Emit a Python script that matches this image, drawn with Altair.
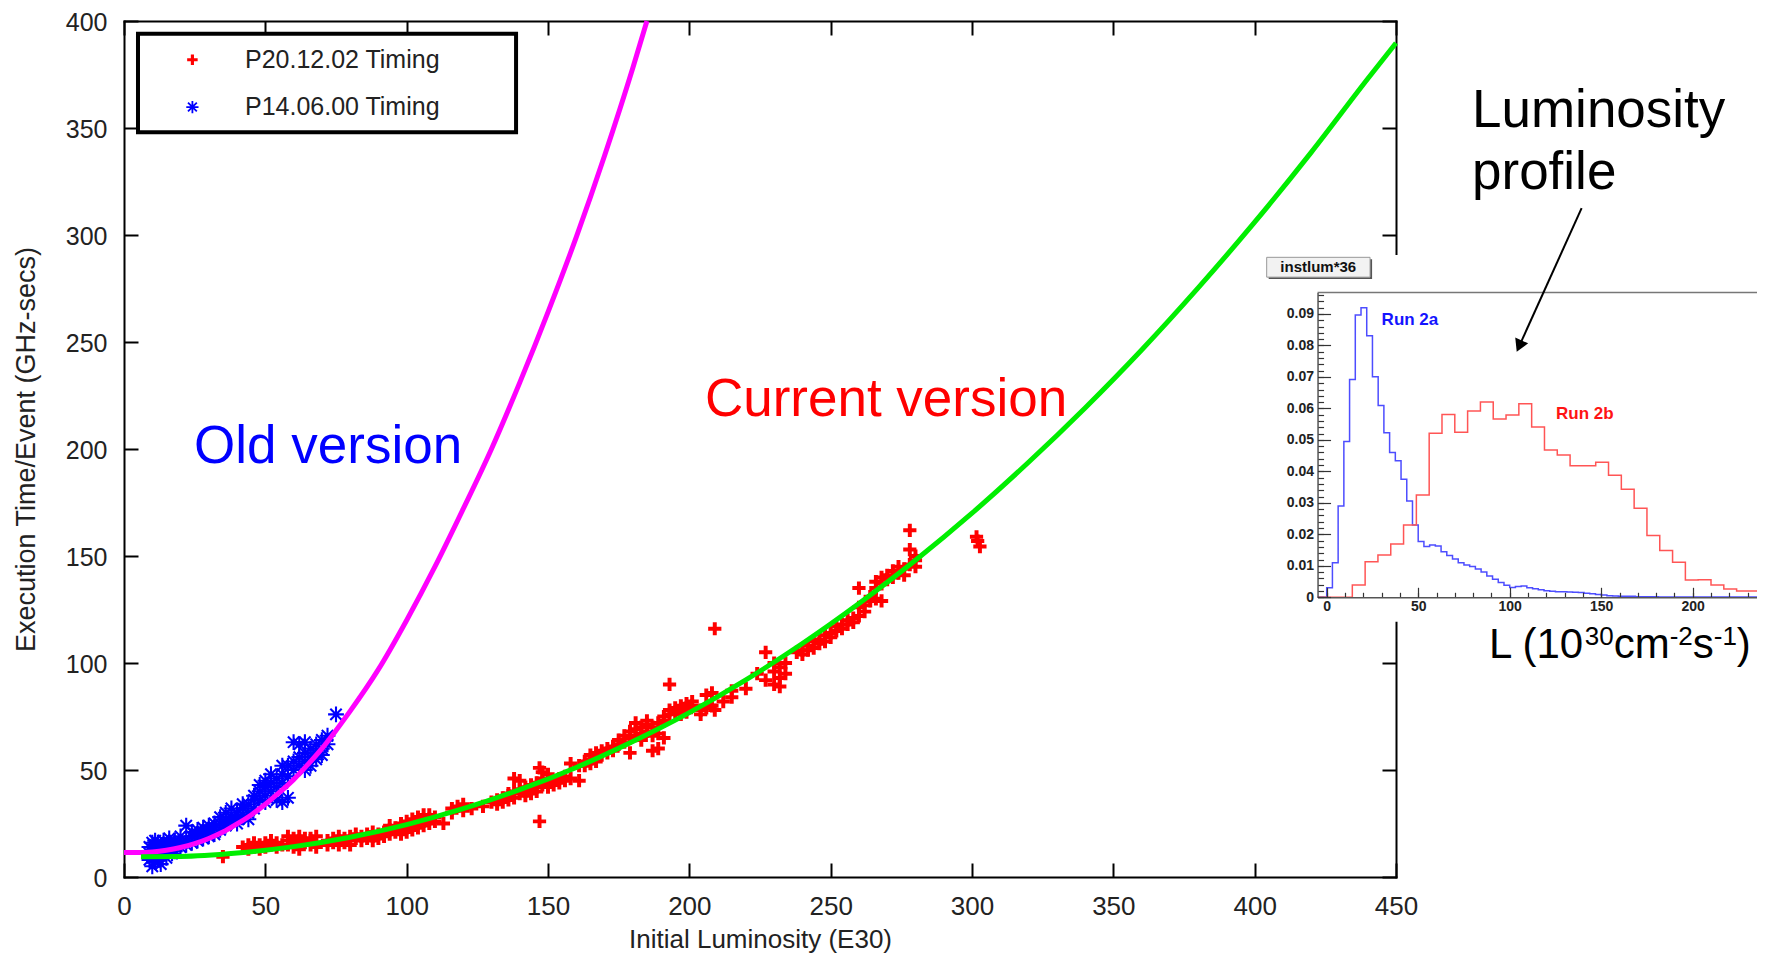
import altair as alt
import pandas as pd

# ---------------- main plot: fitted curves ----------------
old_fit_x = [0, 5, 10, 15, 20, 25, 30, 35, 40, 45, 50, 55, 60, 65, 70, 75,
             80, 90, 100, 110, 120, 130, 140, 150, 160, 170, 180, 185]
old_fit_y = [11.4, 11.4, 11.7, 12.5, 13.8, 15.6, 18.0, 21.0, 24.8, 29.0, 34.0,
             39.5, 45.5, 52.5, 60.0, 68.5, 77.5, 97.0, 120.0, 145.0, 172.0,
             200.0, 231.0, 264.0, 299.0, 337.0, 378.0, 400.0]
new_fit_x = [6, 20, 40, 60, 80, 100, 120, 140, 160, 180, 200, 220, 240, 260,
             280, 300, 320, 340, 360, 380, 400, 420, 440, 450]
new_fit_y = [9.5, 9.6, 11.2, 14.2, 18.6, 24.5, 31.9, 40.8, 51.2, 63.3, 76.8,
             92.1, 109.1, 127.8, 148.0, 170.0, 193.8, 219.2, 246.3, 275.3,
             306.0, 338.6, 373.0, 389.7]

# ---------------- main plot: measured timings ----------------
p20_12_02 = [
    (35, 9.5), (42, 14), (44, 13), (44, 15), (46, 14), (46, 16), (48, 15), (48, 13),
    (50, 16), (50, 14), (52, 17), (52, 15), (54, 16), (54, 14), (56, 15), (58, 17),
    (58, 15), (58, 19), (60, 18), (60, 16), (60, 14), (62, 17), (62, 13), (62, 19),
    (64, 18), (64, 16), (66, 15), (66, 18), (66, 17), (68, 16), (68, 19), (68, 14),
    (72, 17), (72, 15), (74, 16), (74, 18), (76, 15), (76, 17), (76, 19), (78, 18),
    (78, 16), (80, 17), (80, 19), (80, 15), (82, 18), (82, 20), (84, 17), (84, 19),
    (86, 20), (86, 18), (88, 19), (88, 17), (88, 21), (90, 20), (90, 18), (92, 21),
    (92, 19), (94, 20), (94, 22), (94, 24), (96, 21), (96, 23), (98, 22), (98, 20),
    (98, 25), (100, 23), (100, 21), (100, 26), (102, 24), (102, 22), (102, 27),
    (104, 25), (104, 23), (104, 28), (106, 26), (106, 24), (106, 29), (108, 27),
    (108, 25), (108, 29), (110, 28), (110, 26), (113, 25), (116, 32), (116, 30),
    (118, 33), (120, 31), (120, 34), (123, 32), (127, 33), (130, 35), (132, 36),
    (132, 34), (134, 37), (134, 35), (136, 38), (136, 36), (136, 39), (138, 46),
    (138, 37), (138, 40), (140, 39), (140, 41), (140, 45), (142, 40), (142, 38),
    (142, 42), (144, 41), (144, 39), (144, 43), (146, 42), (146, 44), (146, 40),
    (147, 26), (147, 51), (148, 49), (148, 43), (148, 46), (150, 44), (150, 42),
    (150, 48), (152, 45), (152, 43), (154, 46), (154, 44), (156, 47), (156, 45),
    (158, 53), (158, 46), (161, 45), (161, 52), (163, 54), (163, 52), (165, 55),
    (165, 53), (165, 57), (167, 56), (167, 54), (167, 58), (169, 57), (169, 59),
    (171, 58), (171, 60), (173, 61), (173, 59), (175, 62), (175, 64), (177, 63),
    (177, 66), (179, 58), (179, 65), (179, 68), (181, 66), (181, 69), (181, 72),
    (183, 67), (183, 70), (183, 64), (185, 68), (185, 71), (185, 73), (187, 59),
    (187, 66), (187, 70), (189, 60), (189, 67), (189, 72), (191, 65), (191, 73),
    (191, 75), (193, 90), (193, 76), (193, 78), (195, 77), (195, 79), (197, 78),
    (197, 80), (197, 76), (199, 79), (199, 81), (199, 77), (201, 80), (201, 82),
    (204, 78), (204, 76), (206, 79), (206, 85), (208, 80), (208, 86), (209, 116),
    (209, 78), (212, 82), (215, 87), (215, 84), (220, 88), (224, 95), (227, 105),
    (227, 92), (230, 96), (230, 100), (230, 90), (232, 98), (232, 93), (232, 89),
    (234, 100), (234, 95), (238, 105), (240, 106), (240, 104), (242, 108),
    (242, 106), (244, 110), (244, 107), (246, 111), (246, 109), (248, 113),
    (248, 110), (250, 114), (250, 112), (252, 115), (252, 117), (254, 118),
    (254, 116), (256, 120), (256, 118), (258, 121), (258, 119), (260, 135),
    (260, 122), (260, 126), (262, 127), (262, 124), (264, 129), (264, 131),
    (266, 135), (266, 130), (266, 138), (268, 137), (268, 129), (268, 140),
    (270, 139), (270, 141), (272, 140), (272, 143), (274, 142), (274, 145),
    (276, 144), (276, 141), (278, 162), (278, 153), (278, 146), (280, 148),
    (280, 145), (280, 150), (301.6, 159), (302.8, 154.4), (302, 157),
]
p14_06_00 = [
    (9, 14), (9, 11), (9, 8), (10, 16), (10, 12), (10, 9), (10, 5), (11, 15),
    (11, 13), (11, 10), (11, 7), (11, 17), (12, 14), (12, 11), (12, 8), (12, 16),
    (13, 12), (13, 15), (13, 10), (13, 6), (14, 17), (14, 13), (14, 11), (15, 15),
    (15, 12), (15, 9), (16, 16), (16, 13), (16, 18), (17, 14), (17, 11), (18, 17),
    (18, 15), (18, 12), (20, 16), (20, 14), (20, 19), (22, 24), (22, 17), (22, 15),
    (24, 19), (24, 16), (24, 21), (26, 20), (26, 17), (26, 22), (28, 21), (28, 18),
    (28, 23), (30, 22), (30, 19), (30, 24), (30, 20), (32, 23), (32, 20), (32, 25),
    (34, 25), (34, 22), (34, 28), (36, 27), (36, 24), (36, 30), (36, 25), (38, 28),
    (38, 26), (38, 32), (40, 30), (40, 27), (40, 25), (42, 32), (42, 29), (42, 34),
    (44, 34), (44, 30), (44, 27), (46, 36), (46, 32), (46, 38), (48, 40), (48, 36),
    (48, 43), (50, 42), (50, 38), (50, 35), (50, 45), (52, 44), (52, 40), (52, 48),
    (54, 46), (54, 42), (54, 36), (56, 48), (56, 44), (56, 35), (56, 52), (58, 52),
    (58, 47), (58, 37), (60, 54), (60, 50), (60, 63), (62, 56), (62, 52), (62, 62),
    (64, 58), (64, 54), (64, 50), (64, 63), (66, 60), (66, 56), (66, 52), (68, 62),
    (68, 58), (68, 55), (70, 64), (70, 60), (70, 57), (72, 66), (72, 62), (75, 76),
]

x_ticks = [0, 50, 100, 150, 200, 250, 300, 350, 400, 450]
y_ticks = [0, 50, 100, 150, 200, 250, 300, 350, 400]

# ---------------- inset: luminosity profile histograms ----------------
run2a_start, run2a_width = 0.0, 3.125
run2a_h = [0.003, 0.011, 0.029, 0.0495, 0.0692, 0.0897, 0.092, 0.0831, 0.0701,
           0.0609, 0.0523, 0.046, 0.0434, 0.0375, 0.0306, 0.023, 0.0177, 0.0161,
           0.0166, 0.0163, 0.0145, 0.0133, 0.0122, 0.011, 0.0103, 0.0098, 0.009,
           0.008, 0.0068, 0.0057, 0.0047, 0.0038, 0.0031, 0.0034, 0.0036, 0.003,
           0.0027, 0.0024, 0.0021, 0.0019, 0.0018, 0.0018, 0.0017, 0.0016, 0.0015,
           0.0013, 0.0011, 0.0009, 0.0007, 0.0005, 0.0004, 0.0003, 0.0003, 0.0003,
           0.0002, 0.0002, 0.0002, 0.0002, 0.0001, 0.0001, 0.0001, 0.0001, 0.0001,
           0.0001, 0.0001, 0.0001, 0.0001, 0.0001, 0.0001, 0.0001, 0.0001, 0.0001,
           0.0001, 0.0001, 0.0001, 0.0001, 0.0001, 0.0001]
run2b_start, run2b_width = 14.0, 7.0
run2b_h = [0.0039, 0.0113, 0.0134, 0.0169, 0.023, 0.0325, 0.0521, 0.0581, 0.0524,
           0.0592, 0.062, 0.0566, 0.0579, 0.0615, 0.0541, 0.0468, 0.0452, 0.0418,
           0.0418, 0.0429, 0.0388, 0.0343, 0.0283, 0.0196, 0.0149, 0.0111, 0.0055,
           0.0056, 0.0039, 0.0026, 0.002, 0.002, 0.0013]
inset_x_ticks = [0, 50, 100, 150, 200]
inset_y_ticks = [0.0, 0.01, 0.02, 0.03, 0.04, 0.05, 0.06, 0.07, 0.08, 0.09]
inset_x_minor = [10 * k for k in range(25)]
inset_y_minor = [round(0.002 * k, 4) for k in range(49)]

# unit label pieces: (text, superscript?)
unit_pieces = [("L (10", False), ("30", True), ("cm", False), ("-2", True),
               ("s", False), ("-1", True), (")", False)]

# ---------------- layout ----------------
FONT = "Liberation Sans"
W, H = 1272, 856
PAD = {"left": 116, "top": 13, "right": 361, "bottom": 78}
IX0, IPX = 1202.7, 1.83      # inset: view px of L=0, px per unit
IY0, IPY = 576.3, 3148.0     # inset: view px of 0, px per unit
IXMIN, IXMAX, IYMAX = -5.0, 240.0, 0.0968
INSET_LEFT = IX0 + IXMIN * IPX

PLUS = "M-1,-0.3H-0.3V-1H0.3V-0.3H1V0.3H0.3V1H-0.3V0.3H-1Z"
STAR = "M-1,0H1M0,-1V1M-0.72,-0.72L0.72,0.72M-0.72,0.72L0.72,-0.72"

xs = alt.Scale(domain=[0, 450], nice=False, zero=False)
ys = alt.Scale(domain=[0, 400], nice=False, zero=False)
ixs = alt.Scale(domain=[IXMIN, IXMAX], range=[INSET_LEFT, IX0 + IXMAX * IPX], nice=False, zero=False)
iys = alt.Scale(domain=[0, IYMAX], range=[IY0, IY0 - IYMAX * IPY], nice=False, zero=False)

# main axes: labels on bottom/left, inward ticks on all four sides
tick_style = dict(labels=False, ticks=True, tickSize=14, tickWidth=2, tickColor="black",
                  grid=False, title=None)
frame_style = dict(domainColor="black", domainWidth=2, domainCap="square")
ax_x_lab = alt.Axis(orient="bottom", values=x_ticks, ticks=False, tickSize=0, domain=True,
                    labelFont=FONT, labelFontSize=26, labelColor="#222", labelPadding=16,
                    labelFlush=False, labelOverlap=False, grid=False,
                    title="Initial Luminosity (E30)", titleFont=FONT, titleFontSize=26,
                    titleFontWeight="normal", titleColor="#222", titlePadding=7, **frame_style)
ax_y_lab = alt.Axis(orient="left", values=y_ticks, ticks=False, tickSize=0, domain=True,
                    labelFont=FONT, labelFontSize=25, labelColor="#222", labelPadding=17,
                    labelOffset=1, labelFlush=False, labelOverlap=False, grid=False,
                    title="Execution Time/Event (GHz-secs)", titleFont=FONT, titleFontSize=27,
                    titleFontWeight="normal", titleColor="#222", titlePadding=25, **frame_style)
ax_x_tb = alt.Axis(orient="top", offset=-H, values=x_ticks, domain=False, **tick_style)
ax_x_tt = alt.Axis(orient="bottom", offset=-H, values=x_ticks, domain=True, **tick_style, **frame_style)
ax_y_tl = alt.Axis(orient="right", offset=-W, values=y_ticks, domain=False, **tick_style)
ax_y_tr = alt.Axis(orient="left", offset=-W, values=y_ticks, domain=True, **tick_style, **frame_style)

# inset axes
ilab = dict(labelFont=FONT, labelFontSize=14, labelFontWeight="bold", labelColor="#222",
            labelFlush=False, labelOverlap=False, grid=False, title=None, zindex=1,
            ticks=False, tickSize=0, domain=True, domainColor="#555", domainWidth=1.5)
itk = dict(labels=False, ticks=True, tickColor="#333", tickWidth=1.2, domain=False,
           grid=False, title=None, zindex=1)
ax_ix_lab = alt.Axis(orient="bottom", offset=IY0 - H, values=inset_x_ticks, labelPadding=2, **ilab)
ax_iy_lab = alt.Axis(orient="left", offset=-INSET_LEFT, values=inset_y_ticks, labelPadding=4,
                     labelExpr="datum.value == 0 ? '0' : format(datum.value, '.2f')", **ilab)
ax_ix_maj = alt.Axis(orient="top", offset=-IY0, values=inset_x_ticks, tickSize=10, **itk)
ax_ix_min = alt.Axis(orient="top", offset=-IY0, values=inset_x_minor, tickSize=5, **itk)
ax_iy_maj = alt.Axis(orient="right", offset=INSET_LEFT - W, values=inset_y_ticks, tickSize=13, **itk)
ax_iy_min = alt.Axis(orient="right", offset=INSET_LEFT - W, values=inset_y_minor, tickSize=6, **itk)


def mx(field, axis=None):
    return alt.X(field, type="quantitative", scale=xs, axis=axis)


def my(field, axis=None):
    return alt.Y(field, type="quantitative", scale=ys, axis=axis)


def ix(field, axis=None):
    return alt.X(field, type="quantitative", scale=ixs, axis=axis)


def iy(field, axis=None):
    return alt.Y(field, type="quantitative", scale=iys, axis=axis)


# ---------------- main layers ----------------
df_old_fit = pd.DataFrame({"x": old_fit_x, "y": old_fit_y})
df_new_fit = pd.DataFrame({"x": new_fit_x, "y": new_fit_y})
df_new = pd.DataFrame(p20_12_02, columns=["x", "y"])
df_old = pd.DataFrame(p14_06_00, columns=["x", "y"])

red_pts = alt.Chart(df_new).mark_point(shape=PLUS, filled=True, size=175, color="#ff0000",
                                       opacity=1, strokeWidth=0).encode(
    x=mx("x", ax_x_tt), y=my("y", ax_y_tr))
blue_pts = alt.Chart(df_old).mark_point(shape=STAR, filled=False, size=250, color="#0000ff",
                                        opacity=1, strokeWidth=2.1).encode(
    x=mx("x"), y=my("y"))
magenta = alt.Chart(df_old_fit).mark_line(color="#ff00ff", strokeWidth=5, interpolate="monotone").encode(
    x=mx("x", ax_x_tb), y=my("y", ax_y_tl))
green = alt.Chart(df_new_fit).mark_line(color="#00ee00", strokeWidth=5, interpolate="monotone").encode(
    x=mx("x", ax_x_lab), y=my("y", ax_y_lab))

legend_box = alt.Chart(pd.DataFrame({"x": [4.95], "x2": [138.7], "y": [348.0], "y2": [394.0]})).mark_rect(
    fill="white", stroke="black", strokeWidth=4).encode(
    x=mx("x"), x2="x2", y=my("y"), y2="y2")
leg_red = alt.Chart(pd.DataFrame({"x": [24.2], "y": [381.9]})).mark_point(
    shape=PLUS, filled=True, size=110, color="#ff0000", opacity=1, strokeWidth=0).encode(x=mx("x"), y=my("y"))
leg_blue = alt.Chart(pd.DataFrame({"x": [24.2], "y": [359.8]})).mark_point(
    shape=STAR, filled=False, size=150, color="#0000ff", opacity=1, strokeWidth=1.8).encode(x=mx("x"), y=my("y"))
leg_text = alt.Chart(pd.DataFrame({"x": [42.8, 42.8], "y": [381.9, 359.8],
                                   "t": ["P20.12.02 Timing", "P14.06.00 Timing"]})).mark_text(
    font=FONT, fontSize=25, color="#222", align="left", baseline="middle").encode(
    x=mx("x"), y=my("y"), text="t:N")

old_label = alt.Chart(pd.DataFrame({"x": [24.8], "y": [193.5], "t": ["Old version"]})).mark_text(
    font=FONT, fontSize=53, color="#0000ff", align="left", baseline="alphabetic").encode(
    x=mx("x"), y=my("y"), text="t:N")
new_label = alt.Chart(pd.DataFrame({"x": [205.5], "y": [215.2], "t": ["Current version"]})).mark_text(
    font=FONT, fontSize=53, color="#ff0000", align="left", baseline="alphabetic").encode(
    x=mx("x"), y=my("y"), text="t:N")

main = alt.layer(red_pts, blue_pts, magenta, green, legend_box, leg_red, leg_blue, leg_text,
                 old_label, new_label).resolve_axis(x="independent", y="independent")

# ---------------- inset layers ----------------
def step_frame(start, width, heights):
    xs_ = [IXMIN] + [start + i * width for i in range(len(heights) + 1)]
    ys_ = [0.0] + list(heights) + [heights[-1]]
    return pd.DataFrame({"x": xs_, "y": ys_})


# unit label "L (10^30 cm^-2 s^-1)" laid out piece by piece (Arial advance widths)
ADV = {"L": 0.556, " ": 0.278, "(": 0.333, ")": 0.333, "0": 0.556, "1": 0.556, "2": 0.556,
       "3": 0.556, "c": 0.5, "m": 0.833, "s": 0.5, "-": 0.333}
BASE_FS, SUP_FS, SUP_RAISE = 42, 26, 13
ux, rows_base, rows_sup = 88.7, [], []
for txt, sup in unit_pieces:
    fs = SUP_FS if sup else BASE_FS
    row = {"x": ux, "y": -0.0194 + (SUP_RAISE / IPY if sup else 0.0), "t": txt}
    (rows_sup if sup else rows_base).append(row)
    ux += sum(ADV[c] for c in txt) * fs / IPX

bg = alt.Chart(pd.DataFrame({"x": [-35.4], "x2": [250.0], "y": [-0.0078], "y2": [0.1087]})).mark_rect(
    color="white").encode(x=ix("x", ax_ix_min), x2="x2", y=iy("y", ax_iy_min), y2="y2")
top_frame = alt.Chart(pd.DataFrame({"x": [IXMIN], "x2": [IXMAX + 10], "y": [IYMAX]})).mark_rule(
    color="#777", strokeWidth=1.5).encode(x=ix("x"), x2="x2", y=iy("y"))
hist_a = alt.Chart(step_frame(run2a_start, run2a_width, run2a_h)).mark_line(
    interpolate="step-after", color="#4d4dff", strokeWidth=1.5).encode(
    x=ix("x", ax_ix_lab), y=iy("y", ax_iy_lab))
hist_b = alt.Chart(step_frame(run2b_start, run2b_width, run2b_h)).mark_line(
    interpolate="step-after", color="#ff5555", strokeWidth=1.5).encode(
    x=ix("x", ax_ix_maj), y=iy("y", ax_iy_maj))
run_a = alt.Chart(pd.DataFrame({"x": [30.0], "y": [0.0881], "t": ["Run 2a"]})).mark_text(
    font=FONT, fontSize=17, fontWeight="bold", color="#1414ff", align="left", baseline="middle").encode(
    x=ix("x"), y=iy("y"), text="t:N")
run_b = alt.Chart(pd.DataFrame({"x": [125.3], "y": [0.0582], "t": ["Run 2b"]})).mark_text(
    font=FONT, fontSize=17, fontWeight="bold", color="#ff1414", align="left", baseline="middle").encode(
    x=ix("x"), y=iy("y"), text="t:N")
box_shadow = alt.Chart(pd.DataFrame({"x": [-31.7], "x2": [24.8], "y": [0.1011], "y2": [0.1074]})).mark_rect(
    color="#555").encode(x=ix("x"), x2="x2", y=iy("y"), y2="y2")
box = alt.Chart(pd.DataFrame({"x": [-32.8], "x2": [23.7], "y": [0.1017], "y2": [0.1080]})).mark_rect(
    fill="#f2f2f2", stroke="#999", strokeWidth=1).encode(x=ix("x"), x2="x2", y=iy("y"), y2="y2")
box_text = alt.Chart(pd.DataFrame({"x": [-4.6], "y": [0.1048], "t": ["instlum*36"]})).mark_text(
    font=FONT, fontSize=15, fontWeight="bold", color="#111", align="center", baseline="middle").encode(
    x=ix("x"), y=iy("y"), text="t:N")
lum_title = alt.Chart(pd.DataFrame({"x": [79.4, 79.4], "y": [0.1494, 0.1297],
                                    "t": ["Luminosity", "profile"]})).mark_text(
    font=FONT, fontSize=53, color="black", align="left", baseline="alphabetic").encode(
    x=ix("x"), y=iy("y"), text="t:N")
arrow = alt.Chart(pd.DataFrame({"x": [139.3], "x2": [105.2], "y": [0.1236], "y2": [0.0798]})).mark_rule(
    color="black", strokeWidth=2).encode(x=ix("x"), x2="x2", y=iy("y"), y2="y2")
arrow_head = alt.Chart(pd.DataFrame({"x": [105.2], "y": [0.0798]})).mark_point(
    shape="triangle-up", angle=204, filled=True, size=200, color="black", opacity=1).encode(
    x=ix("x"), y=iy("y"))
unit_base = alt.Chart(pd.DataFrame(rows_base)).mark_text(
    font=FONT, fontSize=BASE_FS, color="black", align="left", baseline="alphabetic").encode(
    x=ix("x"), y=iy("y"), text="t:N")
unit_sup = alt.Chart(pd.DataFrame(rows_sup)).mark_text(
    font=FONT, fontSize=SUP_FS, color="black", align="left", baseline="alphabetic").encode(
    x=ix("x"), y=iy("y"), text="t:N")

inset = alt.layer(bg, top_frame, hist_a, hist_b, run_a, run_b, box_shadow, box, box_text,
                  lum_title, arrow, arrow_head, unit_base, unit_sup).resolve_axis(
    x="independent", y="independent")

chart = alt.layer(main, inset).resolve_scale(
    x="independent", y="independent").resolve_axis(
    x="independent", y="independent").properties(
    width=W, height=H, padding=PAD, autosize=alt.AutoSizeParams(type="none"),
    background="white").configure_view(strokeWidth=0).configure(font=FONT)

chart.save("out.html", embed_options={"renderer": "svg", "actions": False})
